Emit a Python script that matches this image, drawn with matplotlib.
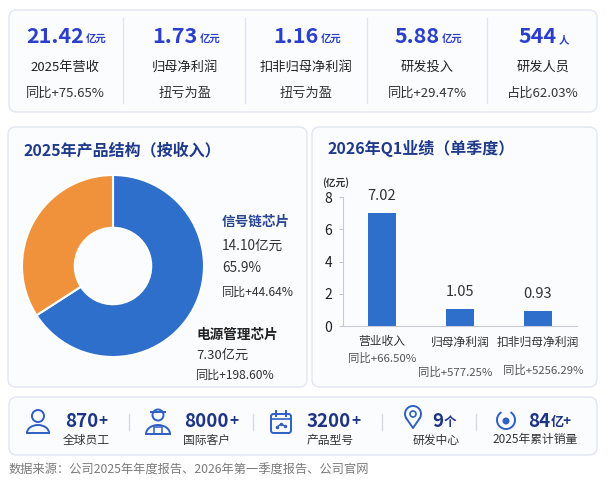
import numpy as np
import matplotlib
matplotlib.use('Agg')
import matplotlib.pyplot as plt
from matplotlib.patches import FancyBboxPatch, Circle, Arc, Rectangle

plt.rcParams['font.family'] = ['Noto Sans CJK SC', 'DejaVu Sans']

# top KPI row
kpi_values = ['21.42', '1.73', '1.16', '5.88', '544']
kpi_units = ['亿元', '亿元', '亿元', '亿元', '人']
kpi_names = ['2025年营收', '归母净利润', '扣非归母净利润', '研发投入', '研发人员']
kpi_notes = ['同比+75.65%', '扭亏为盈', '扭亏为盈', '同比+29.47%', '占比62.03%']

# 2025 product mix (by revenue)
mix_names = ['信号链芯片', '电源管理芯片']
mix_revenue = [14.10, 7.30]
mix_share = [65.9, 34.1]
mix_yoy = ['同比+44.64%', '同比+198.60%']

# 2026 Q1 single quarter
q1_names = ['营业收入', '归母净利润', '扣非归母净利润']
q1_values = [7.02, 1.05, 0.93]
q1_yoy = ['同比+66.50%', '同比+577.25%', '同比+5256.29%']

# bottom strip
fact_values = ['870', '8000', '3200', '9', '84']
fact_units = ['+', '+', '+', '个', '亿+']
fact_names = ['全球员工', '国际客户', '产品型号', '研发中心', '2025年累计销量']

source = '数据来源：公司2025年年度报告、2026年第一季度报告、公司官网'

W, H = 612, 482
BLUE = '#2E6FCC'
ORANGE = '#F0923B'
NAVY = '#1F3A8A'
ICON = '#2F5FC4'

fig = plt.figure(figsize=(W / 100, H / 100), dpi=100)
fig.patch.set_facecolor('white')
bg = fig.add_axes([0, 0, 1, 1])
bg.set_xlim(0, W)
bg.set_ylim(H, 0)
bg.axis('off')


def px_axes(x0, y0, x1, y1):
    return fig.add_axes([x0 / W, 1 - y1 / H, (x1 - x0) / W, (y1 - y0) / H])


def card(x0, y0, x1, y1):
    bg.add_patch(FancyBboxPatch((x0, y0), x1 - x0, y1 - y0,
                                boxstyle='round,pad=0,rounding_size=8',
                                fc='#FBFCFE', ec='#E1E6F2', lw=1.0))


card(9, 10, 597, 112)
card(8, 127, 307, 387)
card(312, 127, 597, 387)
card(9, 397, 597, 455)

# ---- KPI row
col_x = [65, 185, 306, 427, 543]
unit_w = {'亿元': 20, '人': 10}
for i in range(len(kpi_values)):
    cx = col_x[i]
    uw = unit_w[kpi_units[i]]
    t = bg.text(cx - uw / 2, 43, kpi_values[i], ha='center', va='baseline',
                fontsize=15.5, fontweight='bold', color='#2B3FCB')
    bg.annotate(kpi_units[i], xy=(1, 0), xycoords=t, xytext=(1.5, 1.5),
                textcoords='offset points', ha='left', va='bottom',
                fontsize=7.5, fontweight='bold', color='#2B3FCB')
    bg.text(cx, 67, kpi_names[i], ha='center', va='center', fontsize=9.5, color='#222222')
    bg.text(cx, 93, kpi_notes[i], ha='center', va='center', fontsize=9.5, color='#333333')
for dx in [123, 245, 367, 487]:
    bg.plot([dx, dx], [18, 103], color='#DFE4EF', lw=1)

# ---- product mix donut
bg.text(24, 150, '2025年产品结构（按收入）', ha='left', va='center',
        fontsize=11.5, fontweight='bold', color=NAVY)
pie_ax = px_axes(22, 175, 204, 357)
pie_ax.pie(mix_revenue, colors=[BLUE, ORANGE], startangle=90, counterclock=False,
           radius=1, wedgeprops=dict(width=0.58, edgecolor='white', linewidth=1.5))
pie_ax.set_xlim(-1, 1)
pie_ax.set_ylim(-1, 1)

bg.text(222, 222, mix_names[0], ha='left', va='center', fontsize=9.8,
        fontweight='bold', color='#2A4593')
bg.text(222, 246, f'{mix_revenue[0]:.2f}亿元', ha='left', va='center', fontsize=9.8, color='#333333')
bg.text(222, 268, f'{mix_share[0]:.1f}%', ha='left', va='center', fontsize=9.8, color='#333333')
bg.text(222, 292, mix_yoy[0], ha='left', va='center', fontsize=8.7, color='#333333')
bg.text(196, 335, mix_names[1], ha='left', va='center', fontsize=9.8,
        fontweight='bold', color='#222222')
bg.text(196, 355, f'{mix_revenue[1]:.2f}亿元', ha='left', va='center', fontsize=9.5, color='#333333')
bg.text(196, 375, mix_yoy[1], ha='left', va='center', fontsize=8.7, color='#333333')

# ---- Q1 bars
bg.text(327, 148, '2026年Q1业绩（单季度）', ha='left', va='center',
        fontsize=11.5, fontweight='bold', color=NAVY)
bg.text(336, 183, '(亿元)', ha='center', va='center', fontsize=7, fontweight='bold', color='#333333')

bar_ax = px_axes(343, 197, 577, 326)
bar_ax.patch.set_alpha(0)
x = np.arange(len(q1_values))
bar_ax.bar(x, q1_values, width=0.37, color=BLUE)
bar_ax.set_xlim(-0.5, 2.5)
bar_ax.set_ylim(0, 8)
bar_ax.set_yticks([0, 2, 4, 6, 8])
bar_ax.set_xticks([])
bar_ax.tick_params(axis='y', labelsize=10, labelcolor='#222222', length=3,
                   color='#C5CAD6', pad=5)
for s in ['top', 'right']:
    bar_ax.spines[s].set_visible(False)
for s in ['left', 'bottom']:
    bar_ax.spines[s].set_color('#C5CAD6')

yoy_dy = [-32, -46, -44]
yoy_dx = [0, -5, 5]
for i, v in enumerate(q1_values):
    bar_ax.annotate(f'{v:.2f}', xy=(i, v), xytext=(0, 7), textcoords='offset points',
                    ha='center', va='bottom', fontsize=10.5, color='#333333')
    bar_ax.annotate(q1_names[i], xy=(i, 0), xytext=(0, -16), textcoords='offset pixels',
                    ha='center', va='center', fontsize=8.5, color='#333333')
    bar_ax.annotate(q1_yoy[i], xy=(i, 0), xytext=(yoy_dx[i], yoy_dy[i]),
                    textcoords='offset pixels', ha='center', va='center',
                    fontsize=8.2, color='#555555')

# ---- bottom strip
icon_x = [38, 158, 281, 413, 506]
num_x = [65, 184, 307, 432, 528]
name_x = [86, 207, 330, 436, 535]
unit_size = [11, 11, 11, 9, 9.5]

# person
ix = icon_x[0]
bg.add_patch(Circle((ix, 416), 6, fill=False, ec=ICON, lw=1.4))
bg.add_patch(Arc((ix, 433), 22, 16, theta1=180, theta2=360, ec=ICON, lw=1.4))
bg.plot([ix - 11, ix + 11], [433, 433], color=ICON, lw=1.4)
# worker
ix = icon_x[1]
bg.add_patch(Circle((ix, 415), 5.5, fill=False, ec=ICON, lw=1.4))
bg.plot([ix - 7, ix + 7], [412, 412], color=ICON, lw=1.4)
bg.add_patch(Arc((ix, 434), 24, 18, theta1=180, theta2=360, ec=ICON, lw=1.4))
bg.plot([ix - 12, ix + 12], [434, 434], color=ICON, lw=1.4)
bg.add_patch(Rectangle((ix - 4, 427), 8, 7, fill=False, ec=ICON, lw=1.1))
# calendar
ix = icon_x[2]
bg.add_patch(FancyBboxPatch((ix - 10, 414), 20, 19, boxstyle='round,pad=0,rounding_size=2.5',
                            fill=False, ec=ICON, lw=1.4))
bg.plot([ix - 10, ix + 10], [419, 419], color=ICON, lw=1.2)
bg.plot([ix - 5, ix - 5], [411, 416], color=ICON, lw=1.4)
bg.plot([ix + 5, ix + 5], [411, 416], color=ICON, lw=1.4)
bg.plot([ix - 4, ix, ix + 4], [427, 424, 426], color=ICON, lw=1, marker='o', ms=1.5)
# pin
ix = icon_x[3]
bg.add_patch(Arc((ix, 414), 16, 16, theta1=145, theta2=395, ec=ICON, lw=1.4))
bg.plot([ix - 6.5, ix, ix + 6.5], [418.6, 428, 418.6], color=ICON, lw=1.4)
bg.add_patch(Circle((ix, 414), 3, fill=False, ec=ICON, lw=1.2))
# sales badge
ix = icon_x[4]
bg.add_patch(Arc((ix, 420), 18, 18, theta1=-60, theta2=240, ec=ICON, lw=1.4))
bg.add_patch(Circle((ix, 421), 2.8, fc=ICON, ec=ICON))

for i in range(len(fact_values)):
    t = bg.text(num_x[i], 427, fact_values[i], ha='left', va='baseline',
                fontsize=13.5, fontweight='bold', color='#1E3585')
    bg.annotate(fact_units[i], xy=(1, 0), xytext=(0.3, 1.5), xycoords=t,
                textcoords='offset points', ha='left', va='bottom',
                fontsize=unit_size[i], fontweight='bold', color='#1E3585')
    bg.text(name_x[i], 440, fact_names[i], ha='center', va='center', fontsize=8.5, color='#333333')
for dx in [129, 253, 382, 476]:
    bg.plot([dx, dx], [414, 430], color='#D5DAE5', lw=1)

bg.text(9, 470, source, ha='left', va='center', fontsize=8.8, color='#7A7A7A')

fig.savefig('out.png', dpi=100, facecolor='white')
